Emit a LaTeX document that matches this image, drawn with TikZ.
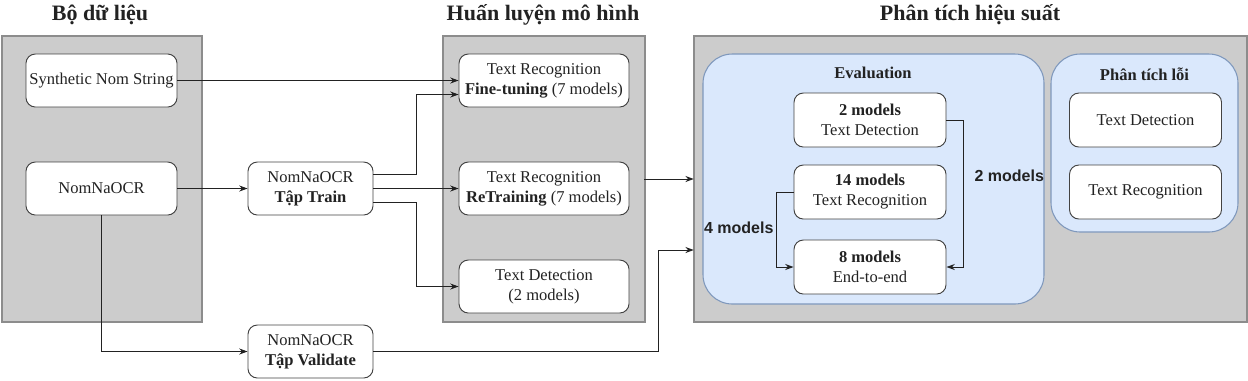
\documentclass[tikz,border=0pt]{standalone}
\usepackage{fontspec}
\setmainfont{Liberation Serif}
\newfontfamily\labelsans{Liberation Sans}
\usepackage{xcolor}
\usetikzlibrary{arrows.meta,positioning,calc}
\definecolor{panelc}{HTML}{CCCCCC}
\definecolor{paneld}{HTML}{8C8C8C}
\definecolor{groupc}{HTML}{DAE8FC}
\definecolor{groupd}{HTML}{7F98BC}
\definecolor{ink}{HTML}{222222}

\begin{document}
\begin{tikzpicture}[
  x=0.75pt, y=-0.75pt,
  >={Stealth[length=2.2mm,width=1.6mm]},
  font=\fontsize{12.4}{15}\selectfont,
  title/.style={font=\fontsize{16.5}{19}\selectfont\bfseries, text=ink},
  panel/.style={draw=paneld, fill=panelc, line width=0.8pt},
  group/.style={draw=groupd, fill=groupc, line width=0.8pt, rounded corners=22pt},
  grouplbl/.style={font=\fontsize{12.4}{15}\selectfont\bfseries, text=ink},
  box/.style={draw=ink!85, fill=white, line width=0.7pt, rounded corners=7pt,
    align=center, text=ink, inner sep=0pt},
  wide/.style={box, minimum width=113.25pt, minimum height=39.75pt},
  mid/.style={box, minimum width=93.75pt, minimum height=39.75pt},
  train/.style={box, minimum width=127.5pt, minimum height=39.75pt},
  evalbox/.style={box, minimum width=114pt, minimum height=40.5pt},
  flow/.style={->, line width=0.7pt, ink},
  cnt/.style={font=\labelsans\bfseries\fontsize{12}{14}\selectfont, text=ink, inner sep=2pt},
]
\useasboundingbox (0,0) rectangle (1248,380);

% ---------- panels ----------
\draw[panel] (2,36) rectangle (202,322);
\draw[panel] (443,36) rectangle (645,322);
\draw[panel] (694,36) rectangle (1247,322);
\node[inner sep=0pt, minimum width=150pt, minimum height=214.5pt] (P2) at (544,179) {};
\node[inner sep=0pt, minimum width=414.75pt, minimum height=214.5pt] (P3) at (970.5,179) {};

\node[title] (T1) at (100,15) {Bộ dữ liệu};
\node[title] (T2) at (543,15) {Huấn luyện mô hình};
\node[title] (T3) at (970,15) {Phân tích hiệu suất};

% ---------- datasets ----------
\node[wide] (syn) at (101.5,80.5) {Synthetic Nom String};
\node[wide] (nom) at (101.5,188.5) {NomNaOCR};
\node[mid] (trn) at (310.5,188.5) {NomNaOCR\\\textbf{Tập Train}};
\node[mid] (val) at (310.5,351.5) {NomNaOCR\\\textbf{Tập Validate}};

% ---------- training ----------
\node[train] (ft) at (544,80.5) {Text Recognition\\\textbf{Fine-tuning} (7 models)};
\node[train] (rt) at (544,188.5) {Text Recognition\\\textbf{ReTraining} (7 models)};
\node[train] (td) at (544,286.5) {Text Detection\\(2 models)};

% ---------- analysis ----------
\draw[group] (703,54) rectangle (1044,304);
\draw[group] (1051,54) rectangle (1238,232);
\node[grouplbl] (EV) at (873,73) {Evaluation};
\node[grouplbl] (ER) at (1144.5,74) {Phân tích lỗi};

\node[evalbox] (e2) at (870,120) {\textbf{2 models}\\Text Detection};
\node[evalbox] (e14) at (870,192) {\textbf{14 models}\\Text Recognition};
\node[evalbox] (e8) at (870,267) {\textbf{8 models}\\End-to-end};
\node[evalbox] (ed) at (1145.5,120) {Text Detection};
\node[evalbox] (er) at (1145.5,192) {Text Recognition};

% ---------- connectors ----------
\draw[flow] (syn.east) -- (ft.west);
\draw[flow] (nom.east) -- (trn.west);
\draw[flow] (nom.south) |- (val.west);
\draw[flow] ($(trn.east)+(0,-14.5)$) -| ($(ft.west)+(-42,14)$) -- ($(ft.west)+(0,14)$);
\draw[flow] (trn.east) -- (rt.west);
\draw[flow] ($(trn.east)+(0,13.5)$) -| ($(td.west)+(-42,0)$) -- (td.west);
\draw[flow] (P2.east) -- (P3.west);
\draw[flow] (val.east) -| ($(P3.west)+(-35.5,71)$) -- ($(P3.west)+(0,71)$);

\draw[flow] (e14.west) -| node[cnt, left, pos=0.74] {4 models} ($(e8.west)+(-17,0)$) -- (e8.west);
\draw[flow] (e2.east) -| node[cnt, right, pos=0.69, xshift=6pt] {2 models} ($(e8.east)+(17,0)$) -- (e8.east);

\end{tikzpicture}
\end{document}
